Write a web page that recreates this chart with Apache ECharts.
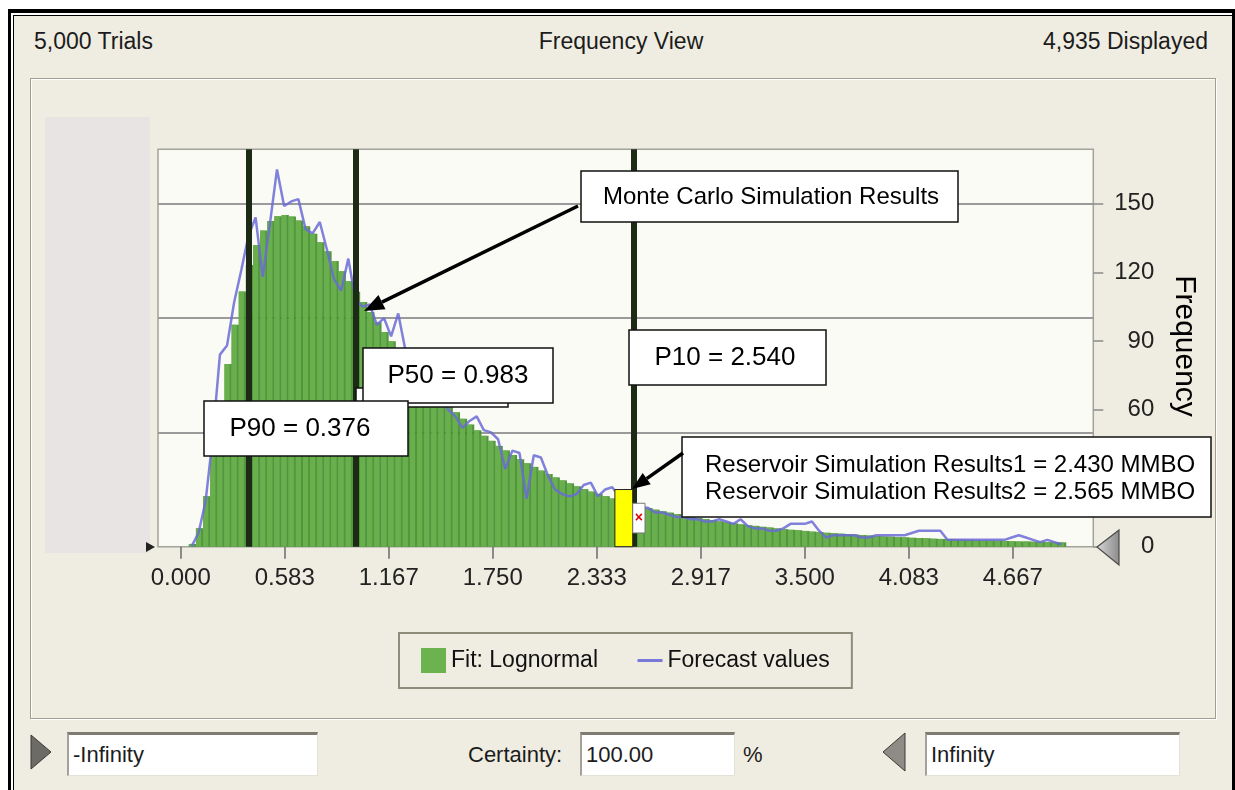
<!DOCTYPE html>
<html>
<head>
<meta charset="utf-8">
<title>Frequency View</title>
<script src="https://cdn.jsdelivr.net/npm/echarts@6/dist/echarts.min.js"></script>
<style>
  body { margin: 0; background: #fff; }
  #wrap { position: relative; width: 1235px; height: 790px; overflow: hidden;
          font-family: "Liberation Sans", Arial, sans-serif; color: #1c1c1c; }
  .abs { position: absolute; }
  .blk { position: absolute; background: #000; }
  #win { position: absolute; left: 14px; top: 16px; width: 1218px; height: 774px; background: #efede1; }
  #group { position: absolute; left: 30px; top: 78px; width: 1184px; height: 639px;
           border: 1px solid #a29e8c; box-shadow: 1px 1px 0 #fff, inset 1px 1px 0 #fff; }
  .head { position: absolute; top: 28px; font-size: 23px; line-height: 26px; white-space: nowrap; }
  .field { position: absolute; top: 732px; height: 40px; background: #fff;
           border-top: 3px solid #7d7b72; border-left: 2px solid #a3a198;
           border-right: 1px solid #e4e2d8; border-bottom: 1px solid #e4e2d8;
           font-size: 22px; line-height: 40px; padding-left: 4px; box-sizing: content-box; }
  .lbl { position: absolute; top: 741px; font-size: 22px; line-height: 28px; white-space: nowrap; }
  #chart { position: absolute; left: 0; top: 0; width: 1235px; height: 790px; }
</style>
</head>
<body>
<div id="wrap">
  <div class="blk" style="left:8px;top:9px;width:1227px;height:4px"></div>
  <div class="blk" style="left:13px;top:15px;width:1219px;height:1px"></div>
  <div class="blk" style="left:8px;top:9px;width:3px;height:781px"></div>
  <div class="blk" style="left:13px;top:15px;width:1px;height:775px"></div>
  <div class="blk" style="left:1232px;top:9px;width:3px;height:781px"></div>
  <div id="win"></div>
  <div id="group"></div>

  <div class="head" style="left:34px">5,000 Trials</div>
  <div class="head" style="left:421px;width:400px;text-align:center">Frequency View</div>
  <div class="head" style="right:27px">4,935 Displayed</div>

  <svg class="abs" style="left:0;top:0" width="1235" height="790">
    <polygon points="31,735 51,752 31,769" fill="#6d6b66" stroke="#3a3936" stroke-width="1"/>
    <polygon points="905,733 883,752 905,771" fill="#8e8c86" stroke="#3a3936" stroke-width="1"/>
  </svg>
  <div class="field" style="left:67px;width:244px">-Infinity</div>
  <div class="lbl" style="left:468px">Certainty:</div>
  <div class="field" style="left:580px;width:148px">100.00</div>
  <div class="lbl" style="left:743px">%</div>
  <div class="field" style="left:925px;width:248px">Infinity</div>

  <div id="chart"></div>
</div>

<script>
// bin centres of the histogram (x value of each bar)
var binMids = [
  0.06, 0.10, 0.14, 0.18, 0.22, 0.26, 0.30, 0.34, 0.38, 0.42,
  0.46, 0.50, 0.54, 0.58, 0.62, 0.66, 0.70, 0.74, 0.78, 0.82,
  0.86, 0.90, 0.94, 0.98, 1.02, 1.06, 1.10, 1.14, 1.18, 1.22,
  1.26, 1.30, 1.34, 1.38, 1.42, 1.46, 1.50, 1.54, 1.58, 1.62,
  1.66, 1.70, 1.74, 1.78, 1.82, 1.86, 1.90, 1.94, 1.98, 2.02,
  2.06, 2.10, 2.14, 2.18, 2.22, 2.26, 2.30, 2.34, 2.38, 2.42,
  2.46, 2.50, 2.54, 2.58, 2.62, 2.66, 2.70, 2.74, 2.78, 2.82,
  2.86, 2.90, 2.94, 2.98, 3.02, 3.06, 3.10, 3.14, 3.18, 3.22,
  3.26, 3.30, 3.34, 3.38, 3.42, 3.46, 3.50, 3.54, 3.58, 3.62,
  3.66, 3.70, 3.74, 3.78, 3.82, 3.86, 3.90, 3.94, 3.98, 4.02,
  4.06, 4.10, 4.14, 4.18, 4.22, 4.26, 4.30, 4.34, 4.38, 4.42,
  4.46, 4.50, 4.54, 4.58, 4.62, 4.66, 4.70, 4.74, 4.78, 4.82,
  4.86, 4.90, 4.94
];
// lognormal fit (green bars)
var fitCounts = [
  1.2, 8.1, 22.1, 40.6, 60.7, 79.9, 97.1, 111.6, 123.2, 132.0,
  138.3, 142.4, 144.5, 145.1, 144.4, 142.7, 140.1, 136.9, 133.2, 129.2,
  125.0, 120.5, 116.1, 111.5, 107.0, 102.6, 98.2, 93.9, 89.8, 85.8,
  81.9, 78.1, 74.5, 71.1, 67.8, 64.6, 61.6, 58.8, 56.0, 53.4,
  50.9, 48.5, 46.3, 44.1, 42.1, 40.1, 38.3, 36.5, 34.9, 33.3,
  31.8, 30.3, 29.0, 27.7, 26.4, 25.2, 24.1, 23.1, 22.1, 21.1,
  20.2, 19.3, 18.5, 17.7, 16.9, 16.2, 15.5, 14.9, 14.3, 13.7,
  13.1, 12.6, 12.1, 11.6, 11.1, 10.7, 10.2, 9.8, 9.4, 9.1,
  8.7, 8.4, 8.0, 7.7, 7.4, 7.2, 6.9, 6.6, 6.4, 6.1,
  5.9, 5.7, 5.5, 5.3, 5.1, 4.9, 4.7, 4.5, 4.4, 4.2,
  4.1, 3.9, 3.8, 3.7, 3.5, 3.4, 3.3, 3.2, 3.1, 3.0,
  2.9, 2.8, 2.7, 2.6, 2.5, 2.4, 2.3, 2.3, 2.2, 2.1,
  2.0, 2.0, 1.9
];
// simulated frequencies (blue line)
var forecastCounts = [
  0, 6, 20, 48, 84, 88, 107, 121, 136, 144,
  118, 141, 165, 149, 151, 152, 139, 137, 142, 130,
  117, 112, 126, 108, 105, 106, 97, 100, 92, 102,
  86, 80, 72, 74, 66, 65, 60, 57, 52, 55,
  57, 51, 50, 47, 34, 42, 41, 21, 40, 39,
  31, 25, 23, 22, 23, 27, 28, 22, 25, 26,
  22, 20, 18, 17, 17, 15, 15, 14, 13, 13,
  12, 12, 11, 11, 12, 11, 10, 12, 9, 8,
  8, 7, 7, 8, 10, 10, 10, 11, 7, 4,
  5, 5, 5, 5, 4, 4, 5, 5, 5, 5,
  5, 6, 7, 7, 7, 7, 3, 3, 3, 3,
  3, 3, 3, 3, 3, 4, 5, 4, 3, 2,
  3, 2, 1
];
var xTicks = [0, 0.5833, 1.1667, 1.75, 2.3333, 2.9167, 3.5, 4.0833, 4.6667];
var freqTicks = [0, 30, 60, 90, 120, 150];
var gridTicks = [50, 100, 150];
var pValues = [0.376, 0.983, 2.540];
var pLabels = ['P90 = 0.376', 'P50 = 0.983', 'P10 = 2.540'];
var resRange = [2.435, 2.535];   // yellow marker, x extent
var resHeight = 25;
var noteRange = [2.535, 2.604];  // small white box beside it
var noteLevels = [6, 19];
var resLines = ['Reservoir Simulation Results1 = 2.430 MMBO',
                'Reservoir Simulation Results2 = 2.565 MMBO'];
var mcLabel = 'Monte Carlo Simulation Results';

var FONT = '"Liberation Sans", Arial, sans-serif';

function pairs(xs, ys) {
  return xs.map(function (x, i) { return [x, ys[i]]; });
}
function box(x, y, w, h) {
  return { type: 'rect', z: 100, shape: { x: x, y: y, width: w, height: h },
           style: { fill: '#fff', stroke: '#111', lineWidth: 1.5 } };
}
function txt(x, y, s, size, align) {
  return { type: 'text', z: 101, x: x, y: y,
           style: { text: s, fill: '#000', fontSize: size, fontFamily: FONT,
                    align: align || 'center', verticalAlign: 'middle' } };
}
function arrow(x1, y1, x2, y2, head, half, w) {
  var dx = x2 - x1, dy = y2 - y1, len = Math.sqrt(dx * dx + dy * dy);
  var ux = dx / len, uy = dy / len;
  var bx = x2 - ux * head, by = y2 - uy * head;
  return [
    { type: 'line', z: 102, shape: { x1: x1, y1: y1, x2: bx, y2: by },
      style: { stroke: '#000', lineWidth: w } },
    { type: 'polygon', z: 102,
      shape: { points: [[x2, y2], [bx - uy * half, by + ux * half], [bx + uy * half, by - ux * half]] },
      style: { fill: '#000' } }
  ];
}

var freqName = txt(1184, 346, 'Frequency', 30, 'center');
freqName.rotation = -Math.PI / 2;

var graphics = [
  // grey block over the left axis
  { type: 'rect', z: 100, shape: { x: 45, y: 117, width: 105, height: 436 }, style: { fill: '#e8e4e4' } },
  { type: 'polygon', z: 101, shape: { points: [[146, 542], [155, 547], [146, 552]] }, style: { fill: '#222' } },
  // slider handle on the right axis
  { type: 'polygon', z: 100, shape: { points: [[1097, 547], [1119, 530], [1119, 565]] },
    style: { fill: new echarts.graphic.LinearGradient(0, 0, 1, 0, [
      { offset: 0, color: '#d8d8d8' }, { offset: 1, color: '#8a8a8a' }]),
      stroke: '#4a4a4a', lineWidth: 1.2 } },
  freqName,
  // callouts
  box(581, 171, 377, 51), txt(771, 197, mcLabel, 24)
].concat(arrow(578, 206, 364, 311, 20, 8, 3.5)).concat([
  box(356, 388, 152, 19),
  box(363, 348, 190, 55), txt(458, 376, pLabels[1], 26),
  box(204, 401, 204, 55), txt(300, 429, pLabels[0], 26),
  box(629, 330, 197, 55), txt(725, 358, pLabels[2], 26),
  box(682, 437, 529, 80), txt(705, 465, resLines[0], 24, 'left'), txt(705, 492, resLines[1], 24, 'left')
]).concat(arrow(683, 453, 632, 489, 18, 7, 3.5));

var chart = echarts.init(document.getElementById('chart'));

var option = {
  animation: false,
  textStyle: { fontFamily: FONT },
  grid: {
    left: 158, right: 141.7, top: 149.3, bottom: 243.3,
    outerBoundsMode: 'none',
    show: true, backgroundColor: '#fbfbf6', borderColor: '#a3a39b', borderWidth: 1.5
  },
  legend: {
    left: 399, top: 633,
    padding: [15, 22],
    itemWidth: 25, itemHeight: 25, itemGap: 38,
    backgroundColor: '#efede1', borderColor: '#8f8c7c', borderWidth: 2,
    textStyle: { fontSize: 23, color: '#111', fontFamily: FONT },
    data: [
      { name: 'Fit: Lognormal', icon: 'rect', itemStyle: { color: '#6cb24e', borderWidth: 0, opacity: 1 } },
      { name: 'Forecast values', itemStyle: { opacity: 0 },
        lineStyle: { color: '#7878d8', width: 3, opacity: 1 } }
    ]
  },
  xAxis: {
    type: 'value', min: -0.1273, max: 5.118,
    axisLine: { show: false },
    splitLine: { show: false },
    axisTick: { show: true, customValues: xTicks, length: 12, lineStyle: { color: '#6a6a6a', width: 1.5 } },
    axisLabel: { customValues: xTicks, margin: 20, fontSize: 24, color: '#222',
                 formatter: function (v) { return v.toFixed(3); } }
  },
  yAxis: [{
    type: 'value', position: 'left', min: 0, max: 173.8, interval: 50,
    axisLine: { show: false },
    axisLabel: { show: false },
    axisTick: { show: true, customValues: gridTicks, length: 8, lineStyle: { color: '#9a9a9a', width: 2 } },
    splitLine: { show: true, lineStyle: { color: '#9a9a9a', width: 2 } }
  }, {
    type: 'value', position: 'right', min: 0, max: 173.8, interval: 30,
    axisLine: { show: false },
    splitLine: { show: false },
    axisTick: { show: true, customValues: freqTicks, length: 10, lineStyle: { color: '#8a8a8a', width: 1.5 } },
    axisLabel: { customValues: freqTicks, align: 'right', margin: 61, fontSize: 24, color: '#222' }
  }],
  series: [{
    // darker stripe between the bins
    name: 'fitEdge',
    type: 'bar',
    data: pairs(binMids, fitCounts),
    barWidth: 7.3,
    barGap: '-100%',
    z: 2,
    silent: true,
    itemStyle: { color: '#3f8b2d', opacity: 0.9 }
  }, {
    name: 'Fit: Lognormal',
    type: 'bar',
    data: pairs(binMids, fitCounts),
    barWidth: 5.2,
    barGap: '-100%',
    z: 2,
    itemStyle: { color: '#6cb24e', opacity: 0.9 }
  }, {
    name: 'Forecast values',
    type: 'line',
    data: pairs(binMids, forecastCounts),
    symbol: 'none',
    z: 3,
    itemStyle: { color: '#6b6bd6' },
    lineStyle: { color: '#6b6bd6', width: 2.5, opacity: 0.85 }
  }, {
    name: 'percentiles',
    type: 'line',
    data: [],
    z: 4,
    markLine: {
      silent: true, symbol: ['none', 'none'], z: 5,
      label: { show: false },
      lineStyle: { color: '#1d2a15', width: 6, type: 'solid', opacity: 1 },
      data: pValues.map(function (v) { return { xAxis: v }; })
    }
  }, {
    name: 'reservoir',
    type: 'line',
    data: [],
    z: 6,
    markArea: {
      silent: true, z: 10,
      data: [
        [{ xAxis: resRange[0], yAxis: 0,
           itemStyle: { color: '#ffff00', borderColor: '#222', borderWidth: 1, opacity: 1 } },
         { xAxis: resRange[1], yAxis: resHeight }],
        [{ xAxis: noteRange[0], yAxis: noteLevels[0],
           itemStyle: { color: '#ffffff', borderColor: '#777', borderWidth: 1, opacity: 1 },
           label: { show: true, position: 'inside', formatter: '×', color: '#e00000', fontSize: 14, fontWeight: 'bold' } },
         { xAxis: noteRange[1], yAxis: noteLevels[1] }]
      ]
    }
  }],
  graphic: graphics
};

chart.setOption(option);
</script>
</body>
</html>
